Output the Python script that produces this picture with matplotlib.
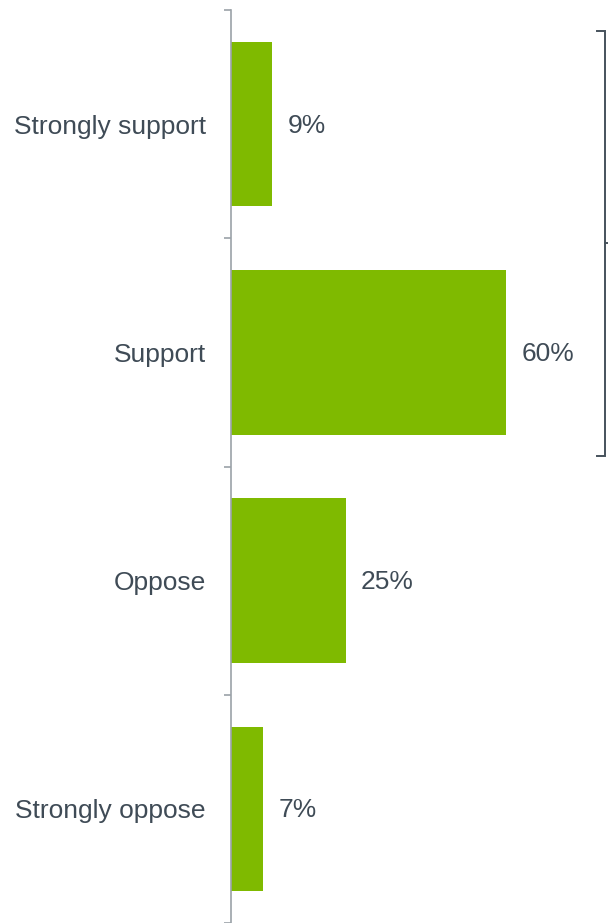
import matplotlib.pyplot as plt
import matplotlib.transforms as mtransforms

plt.rcParams['font.family'] = ['Liberation Sans', 'DejaVu Sans']

# Survey responses and their shares
categories = ['Strongly support', 'Support', 'Oppose', 'Strongly oppose']
values = [9, 60, 25, 7]

bar_color = '#7fba00'
text_color = '#3f4b56'
axis_color = '#9ba2a8'

fig = plt.figure(figsize=(6.08, 9.23), dpi=100)
ax = fig.add_axes([231 / 608, 0, 1 - 231 / 608, 1 - 10 / 923])

pos = list(range(len(categories)))
ax.barh(pos, values, height=0.72, color=bar_color)
ax.set_ylim(len(categories) - 0.5, -0.5)
ax.set_xlim(0, 82.3)

# Value labels just right of each bar
for p, v in zip(pos, values):
    ax.annotate(f'{v}%', xy=(v, p), xytext=(11, -1), textcoords='offset points',
                va='center', ha='left', fontsize=19, color=text_color)

# Only the left axis line, with ticks between categories
for side in ['top', 'right', 'bottom']:
    ax.spines[side].set_visible(False)
ax.spines['left'].set_color(axis_color)
ax.spines['left'].set_linewidth(1.2)
ax.set_xticks([])
ax.set_yticks(pos)
ax.set_yticklabels(categories, fontsize=19, color=text_color)
ax.tick_params(axis='y', which='major', length=0, pad=18)
ax.set_yticks([p - 0.5 for p in pos] + [len(pos) - 0.5], minor=True)
ax.tick_params(axis='y', which='minor', length=5, width=1.2, color=axis_color)

# Bracket grouping the two "support" answers
trans = mtransforms.blended_transform_factory(ax.transAxes, ax.transData)
top, bottom = -0.41, 1.455
mid = (top + bottom) / 2
bx, serif = 0.992, 0.972
ax.plot([serif, bx, bx, serif], [top, top, bottom, bottom], transform=trans,
        color='#46525c', lw=1.4, clip_on=False, solid_joinstyle='miter')
ax.plot([bx, 1.0], [mid, mid], transform=trans, color='#46525c', lw=1.4,
        clip_on=False)

fig.savefig('out.png', dpi=100)
